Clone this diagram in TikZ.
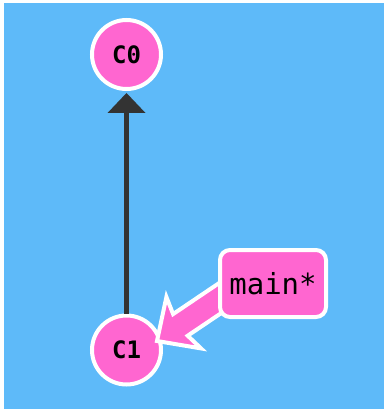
\documentclass[tikz,border=0pt]{standalone}
\usepackage{fontspec}
\newfontfamily\gitmono{DejaVu Sans Mono}
\definecolor{bgblue}{HTML}{5EBAF9}
\definecolor{commitpink}{HTML}{FF66D0}
\definecolor{edgegray}{HTML}{333333}
\tikzset{
  commit/.style={circle, draw=white, line width=4pt, fill=commitpink, minimum size=69pt, inner sep=0pt,
    font=\gitmono\bfseries\fontsize{24}{24}\selectfont, text=black},
  branchbox/.style={draw=white, line width=4pt, fill=commitpink, rounded corners=10pt,
    minimum width=106pt, minimum height=67pt, inner sep=0pt,
    font=\gitmono\fontsize{29}{29}\selectfont, text=black},
  parentedge/.style={draw=edgegray, line width=4.5pt},
  branchptr/.style={fill=commitpink, draw=white, line width=4pt, line join=miter, miter limit=10}
}
\begin{document}
\begin{tikzpicture}[x=1pt, y=-1pt]
  \useasboundingbox (0,0) rectangle (384,409);
  \fill[white] (0,0) rectangle (384,409);
  \fill[bgblue] (4,3) rectangle (384,409);
  % commits
  \node[commit] (c0) at (126.5,54.5) {C0};
  \node[commit] (c1) at (126.5,350) {C1};
  % parent edge
  \coordinate (headbase) at (126.5,113);
  \draw[parentedge] (c1.north) -- (headbase);
  \fill[edgegray] (c0.south) ++(0,2) -- (107.5,113) -- (145.5,113) -- cycle;
  % branch pointer
  \coordinate (tip) at (157,341);
  \filldraw[branchptr] (tip) -- (166.4,297.0) -- (173.1,314.1) -- (241.9,267.7)
     -- (256.5,289.3) -- (187.7,335.7) -- (201.0,348.4) -- cycle;
  \node[branchbox] (main) at (273,283.5) {main*};
\end{tikzpicture}
\end{document}
